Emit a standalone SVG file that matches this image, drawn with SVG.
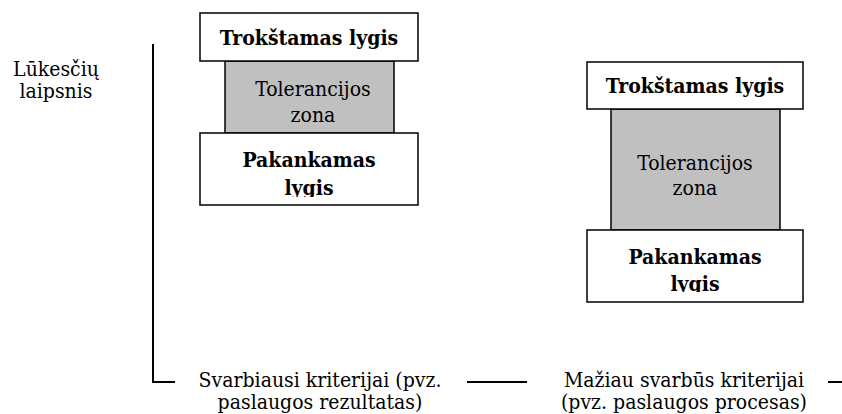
<svg xmlns="http://www.w3.org/2000/svg" width="842" height="414" viewBox="0 0 842 414">
  <style>
    .box { fill: #ffffff; stroke: #000000; stroke-width: 1.5; }
    .zone { fill: #c0c0c0; stroke: #000000; stroke-width: 1.5; }
    .axis { fill: none; stroke: #000000; stroke-width: 2; }
    text { font-family: "DejaVu Serif Condensed", "DejaVu Serif", serif; font-size: 21px; fill: #000000; text-anchor: middle; }
    .b { font-weight: bold; }
  </style>
  <defs>
    <!-- the lower labels overflow their frame and are cut at its edge -->
    <clipPath id="clipL"><rect x="200" y="133" width="218" height="64"/></clipPath>
    <clipPath id="clipR"><rect x="587" y="230" width="216" height="62"/></clipPath>
  </defs>
  <rect width="842" height="414" fill="#ffffff"/>

  <!-- axis lines -->
  <g id="connectors">
    <polyline class="axis" points="153,44 153,382 175,382"/>
    <line class="axis" x1="467" y1="382" x2="527" y2="382"/>
    <line class="axis" x1="828" y1="382" x2="842" y2="382"/>
  </g>

  <g id="axis-label">
    <text x="56" y="76">Lūkesčių</text>
    <text x="56" y="98">laipsnis</text>
  </g>

  <!-- left column: most important criteria -->
  <g id="left-zone">
    <rect class="zone" x="225" y="61" width="169" height="72"/>
    <text x="313" y="96">Tolerancijos</text>
    <text x="313" y="122">zona</text>
  </g>
  <g id="left-desired">
    <rect class="box" x="200" y="13" width="218" height="48"/>
    <text class="b" x="309" y="45">Trokštamas lygis</text>
  </g>
  <g id="left-adequate">
    <rect class="box" x="200" y="133" width="218" height="72"/>
    <g clip-path="url(#clipL)">
      <text class="b" x="309" y="167">Pakankamas</text>
      <text class="b" x="309" y="195">lygis</text>
    </g>
  </g>

  <!-- right column: less important criteria -->
  <g id="right-zone">
    <rect class="zone" x="611" y="109" width="169" height="121"/>
    <text x="695" y="170">Tolerancijos</text>
    <text x="695" y="195">zona</text>
  </g>
  <g id="right-desired">
    <rect class="box" x="587" y="62" width="216" height="47"/>
    <text class="b" x="695" y="93">Trokštamas lygis</text>
  </g>
  <g id="right-adequate">
    <rect class="box" x="587" y="230" width="216" height="72"/>
    <g clip-path="url(#clipR)">
      <text class="b" x="695" y="264">Pakankamas</text>
      <text class="b" x="695" y="291">lygis</text>
    </g>
  </g>

  <g id="bottom-labels">
    <text x="320" y="387">Svarbiausi kriterijai (pvz.</text>
    <text x="320" y="409">paslaugos rezultatas)</text>
    <text x="684" y="387">Mažiau svarbūs kriterijai</text>
    <text x="684" y="409">(pvz. paslaugos procesas)</text>
  </g>
</svg>
